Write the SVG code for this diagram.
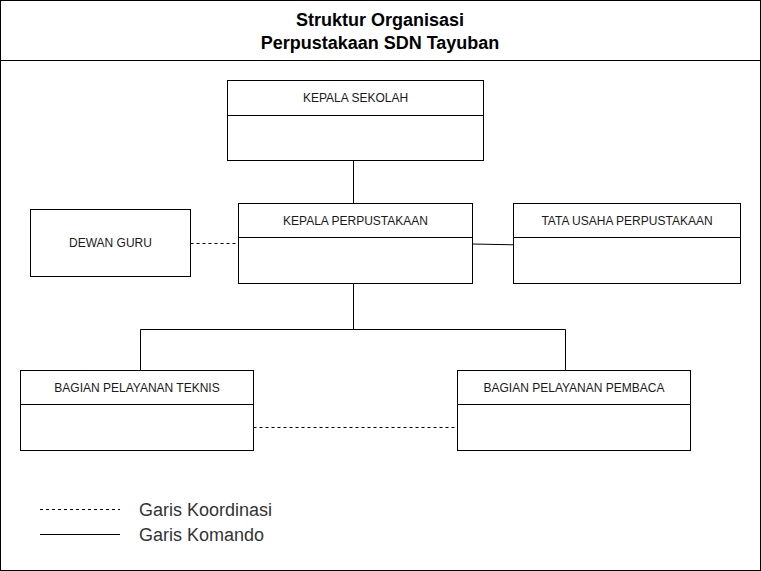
<svg xmlns="http://www.w3.org/2000/svg" width="761" height="571" viewBox="0 0 761 571">
<style>
.box{fill:#fff;stroke:#000;stroke-width:1}
.sep{stroke:#000;stroke-width:1}
.t{font-family:"Liberation Sans",Arial,sans-serif;font-size:12px;fill:#1a1a1a;text-anchor:middle}
.title{font-family:"Liberation Sans",Arial,sans-serif;font-size:18px;font-weight:bold;fill:#000;text-anchor:middle}
.leg{font-family:"Liberation Sans",Arial,sans-serif;font-size:18px;fill:#333}
.solid{fill:none;stroke:#000;stroke-width:1}
.dash{fill:none;stroke:#000;stroke-width:1;stroke-dasharray:3 3}
</style>
<rect width="761" height="571" fill="#fff"/>
<g id="frame">
<rect x="0.5" y="0.5" width="760" height="570" fill="#fff" stroke="#000"/>
<line x1="0.5" y1="60.5" x2="760.5" y2="60.5" stroke="#000"/>
<text class="title" x="380" y="25.5">Struktur Organisasi</text>
<text class="title" x="380" y="48.5">Perpustakaan SDN Tayuban</text>
</g>
<g id="connectors">
<path class="solid" d="M353.5 160.5 V203.5"/>
<path class="solid" d="M353.5 283.5 V329.5 M140.5 370.5 V329.5 H565.5 V370.5"/>
<path class="solid" d="M472.5 244 L513.5 244.8"/>
<path class="dash" d="M190.5 243.5 H238.5"/>
<path class="dash" d="M253.5 427.5 H457.5"/>
</g>
<g id="kepala-sekolah">
<rect class="box" x="227.5" y="80.5" width="256" height="80"/>
<line class="sep" x1="227.5" y1="115.5" x2="483.5" y2="115.5"/>
<text class="t" x="355.5" y="102">KEPALA SEKOLAH</text>
</g>
<g id="kepala-perpustakaan">
<rect class="box" x="238.5" y="203.5" width="234" height="80"/>
<line class="sep" x1="238.5" y1="237.5" x2="472.5" y2="237.5"/>
<text class="t" x="355.5" y="225">KEPALA PERPUSTAKAAN</text>
</g>
<g id="dewan-guru">
<rect class="box" x="30.5" y="209.5" width="160" height="67"/>
<text class="t" x="110.5" y="247">DEWAN GURU</text>
</g>
<g id="tata-usaha">
<rect class="box" x="513.5" y="203.5" width="227" height="80"/>
<line class="sep" x1="513.5" y1="237.5" x2="740.5" y2="237.5"/>
<text class="t" x="627" y="225">TATA USAHA PERPUSTAKAAN</text>
</g>
<g id="pelayanan-teknis">
<rect class="box" x="20.5" y="370.5" width="233" height="80"/>
<line class="sep" x1="20.5" y1="404.5" x2="253.5" y2="404.5"/>
<text class="t" x="137" y="392">BAGIAN PELAYANAN TEKNIS</text>
</g>
<g id="pelayanan-pembaca">
<rect class="box" x="457.5" y="370.5" width="233" height="80"/>
<line class="sep" x1="457.5" y1="404.5" x2="690.5" y2="404.5"/>
<text class="t" x="574" y="392">BAGIAN PELAYANAN PEMBACA</text>
</g>
<g id="legend">
<line class="dash" x1="40" y1="509.5" x2="120" y2="509.5" stroke-dasharray="2 2"/>
<line class="solid" x1="40" y1="534.5" x2="120" y2="534.5"/>
<text class="leg" x="139" y="516">Garis Koordinasi</text>
<text class="leg" x="139" y="541">Garis Komando</text>
</g>
</svg>
